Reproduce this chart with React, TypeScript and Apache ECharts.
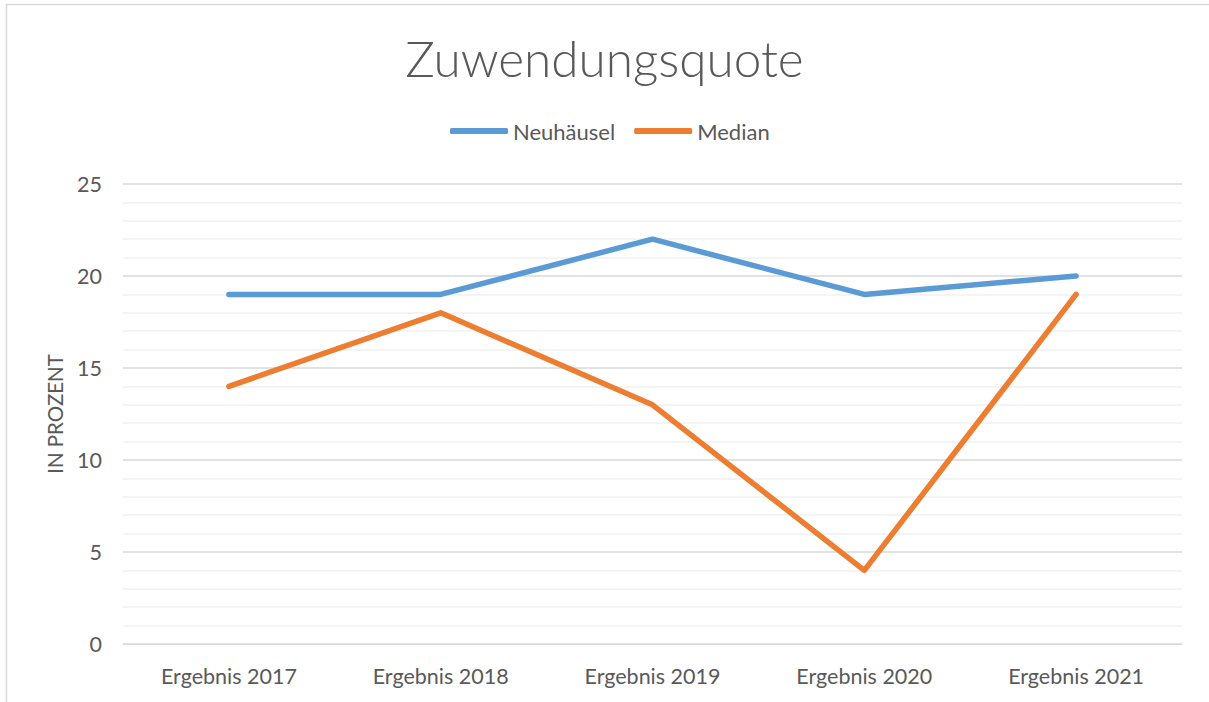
import React, { useEffect, useRef } from "react";
import * as echarts from "echarts";

const categories = ["Ergebnis 2017", "Ergebnis 2018", "Ergebnis 2019", "Ergebnis 2020", "Ergebnis 2021"];
const neuhaeusel = [19, 19, 22, 19, 20];
const median = [14, 18, 13, 4, 19];
const seriesNames = ["Neuhäusel", "Median"];
const titleText = "Zuwendungsquote";
const yAxisName = "IN PROZENT";

const FONT = "Lato, 'Open Sans', sans-serif";
const TEXT = "#595959";

export default function App() {
  const ref = useRef<HTMLDivElement>(null);
  useEffect(() => {
    const chart = echarts.init(ref.current!, null, { renderer: "svg" });
    chart.setOption({
      animation: false,
      backgroundColor: "#ffffff",
      title: {
        text: titleText,
        left: "center",
        top: 28,
        textStyle: { fontFamily: FONT, fontWeight: 300, fontSize: 49.5, color: TEXT },
      },
      legend: {
        top: 115,
        left: 445,
        itemWidth: 58,
        itemHeight: 6,
        itemGap: 19,
        icon: "roundRect",
        textStyle: { fontFamily: FONT, fontSize: 22, color: TEXT },
        data: seriesNames,
      },
      grid: { left: 123, right: 27, top: 184, bottom: 58, containLabel: false },
      xAxis: {
        type: "category",
        data: categories,
        boundaryGap: true,
        axisLine: { show: true, lineStyle: { color: "#d9d9d9", width: 1 } },
        axisTick: { show: false },
        axisLabel: { fontFamily: FONT, fontSize: 21.5, color: TEXT, margin: 21 },
      },
      yAxis: {
        type: "value",
        min: 0,
        max: 25,
        interval: 5,
        name: yAxisName,
        nameLocation: "middle",
        nameGap: 58,
        nameTextStyle: { fontFamily: FONT, fontSize: 20.5, color: TEXT },
        axisLine: { show: false },
        axisTick: { show: false },
        axisLabel: { fontFamily: FONT, fontSize: 21.5, color: TEXT, margin: 21 },
        splitLine: { lineStyle: { color: "#d9d9d9", width: 1.5 } },
        minorTick: { show: false, splitNumber: 5 },
        minorSplitLine: { show: true, lineStyle: { color: "#f0f0f0", width: 1.5 } },
      },
      graphic: [
        {
          type: "polyline",
          shape: { points: [[6.5, 702], [6.5, 4.5], [1209, 4.5]] },
          style: { stroke: "#d9d9d9", lineWidth: 1.5, fill: null },
          silent: true,
        },
      ],
      series: [
        {
          name: seriesNames[0],
          type: "line",
          data: neuhaeusel,
          symbol: "none",
          lineStyle: { color: "#5B9BD5", width: 5.5, cap: "round", join: "round" },
          itemStyle: { color: "#5B9BD5" },
        },
        {
          name: seriesNames[1],
          type: "line",
          data: median,
          symbol: "none",
          lineStyle: { color: "#ED7D31", width: 5.5, cap: "round", join: "round" },
          itemStyle: { color: "#ED7D31" },
        },
      ],
    });
    return () => chart.dispose();
  }, []);
  return (
    <div
      ref={ref}
      style={{ position: "fixed", left: 0, top: 0, width: 1209, height: 702 }}
    />
  );
}
